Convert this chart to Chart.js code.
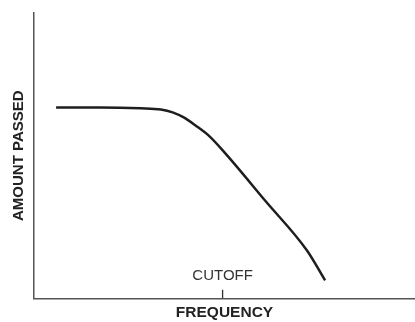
<!DOCTYPE html>
<html>
<head>
<meta charset="utf-8">
<script src="https://cdn.jsdelivr.net/npm/chart.js@4/dist/chart.umd.min.js"></script>
<style>
  html, body { margin: 0; padding: 0; background: #fff; }
  canvas { display: block; }
</style>
</head>
<body>
<canvas id="chart" width="415" height="322"></canvas>
<script>
// Low-pass response: amount passed vs. frequency (arbitrary units 0-100)
const frequency    = [5.8, 17.5, 28.0, 33.3, 36.4, 39.3, 42.4, 45.8, 49.7, 60.7, 71.7, 76.4];
const amountPassed = [66.9, 66.9, 66.6, 66.2, 65.2, 63.4, 60.6, 57.1, 51.6, 34.2, 16.7, 6.3];

// Cutoff marker on the frequency axis
const cutoffFrequency = 49.5;
const cutoffMarkHeight = [0, 3];
const cutoffLabel = 'CUTOFF';

const axisTitles = { x: 'FREQUENCY', y: 'AMOUNT PASSED' };

const responsePoints = frequency.map((f, i) => ({ x: f, y: amountPassed[i] }));
const cutoffPoints = cutoffMarkHeight.map(h => ({ x: cutoffFrequency, y: h }));

// Writes the cutoff label just above the tick mark
const cutoffLabelPlugin = {
  id: 'cutoffLabel',
  afterDatasetsDraw(chart) {
    const meta = chart.getDatasetMeta(1);
    const top = meta.data[1];
    const ctx = chart.ctx;
    ctx.save();
    ctx.font = '15px "Liberation Sans", Arial, sans-serif';
    ctx.fillStyle = '#333';
    ctx.textAlign = 'center';
    ctx.textBaseline = 'bottom';
    ctx.fillText(cutoffLabel, top.x, top.y - 6);
    ctx.restore();
  }
};

new Chart(document.getElementById('chart'), {
  type: 'line',
  data: {
    datasets: [
      {
        data: responsePoints,
        borderColor: '#1e1e1e',
        borderWidth: 2.5,
        pointRadius: 0,
        cubicInterpolationMode: 'monotone',
        fill: false
      },
      {
        data: cutoffPoints,
        borderColor: '#333',
        borderWidth: 1.3,
        pointRadius: 0,
        fill: false
      }
    ]
  },
  options: {
    responsive: false,
    animation: false,
    layout: { padding: { top: 13, right: 0, bottom: 0, left: 8 } },
    plugins: { legend: { display: false }, tooltip: { enabled: false } },
    scales: {
      x: {
        type: 'linear',
        min: 0,
        max: 100,
        grid: { display: false, drawTicks: false },
        border: { display: true, color: '#555', width: 1.5 },
        ticks: { display: false },
        title: {
          display: true,
          text: axisTitles.x,
          color: '#222',
          font: { family: '"Liberation Sans", Arial, sans-serif', size: 15.5, weight: 'bold' },
          padding: { top: 5, bottom: 0 }
        }
      },
      y: {
        type: 'linear',
        min: 0,
        max: 100,
        grid: { display: false, drawTicks: false },
        border: { display: true, color: '#555', width: 1.5 },
        ticks: { display: false },
        title: {
          display: true,
          text: axisTitles.y,
          color: '#222',
          font: { family: '"Liberation Sans", Arial, sans-serif', size: 15, weight: 'bold' },
          padding: { top: 2, bottom: 6 }
        }
      }
    }
  },
  plugins: [cutoffLabelPlugin]
});
</script>
</body>
</html>
